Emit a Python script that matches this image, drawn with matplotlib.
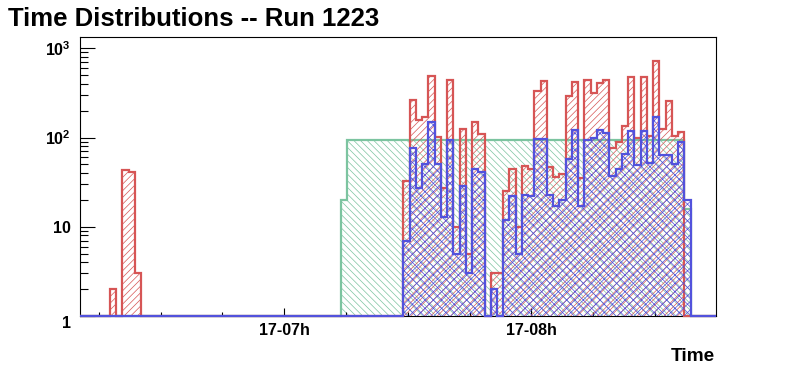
import numpy as np
import matplotlib
matplotlib.use("Agg")
import matplotlib.pyplot as plt
from matplotlib.ticker import FixedLocator, NullFormatter, FixedFormatter

plt.rcParams['font.family'] = ['Liberation Sans', 'DejaVu Sans']
plt.rcParams['font.weight'] = 'bold'
plt.rcParams['mathtext.fontset'] = 'custom'
plt.rcParams['mathtext.rm'] = 'Liberation Sans:bold'
plt.rcParams['mathtext.bf'] = 'Liberation Sans:bold'
plt.rcParams['mathtext.it'] = 'Liberation Sans:bold'
plt.rcParams['hatch.linewidth'] = 0.5

# ---------------- data ----------------
title = "Time Distributions -- Run 1223"
x_label = "Time"
x_major_minutes = [0, 60]                 # minutes after 17-07h
x_major_labels = ["17-07h", "17-08h"]
x_minor_minutes = [-45, -30, -15, 15, 30, 45, 75, 90]
x_limits_min = (-49.7, 104.8)
y_limits = (1, 1340)
y_major = [1, 10, 100, 1000]
y_major_labels = ["1", "10", r"$10^{2}$", r"$10^{3}$"]

bin_width_min = 1.516      # histogram bin width (minutes)
bin0_start_min = 28.9      # start of bin index 0 (minutes after 17-07h)

green_first_bin = -10
green_counts = [20, 94, 94, 94, 94, 94, 94, 94, 94, 94,
                94, 94, 94, 94, 94, 94, 94, 94, 94, 94,
                94, 94, 94, 94, 94, 94, 94, 94, 94, 94,
                94, 94, 94, 94, 94, 94, 94, 94, 94, 94,
                94, 94, 94, 94, 94, 94, 94, 94, 94, 94,
                94, 94, 94, 94, 94, 16]

red_early_first_bin = -47
red_early_counts = [2, 0, 43, 41, 3]

red_main_first_bin = 0
red_main_counts = [33, 265, 158, 170, 484, 101, 27, 445, 10, 125,
                   5, 150, 111, 0, 3, 3, 25, 44, 10, 48,
                   44, 329, 426, 47, 36, 39, 296, 415, 35, 437,
                   316, 408, 437, 76, 90, 136, 472, 98, 472, 104,
                   714, 125, 254, 103, 114, 0]

blue_first_bin = 0
blue_counts = [7, 77, 27, 51, 150, 51, 13, 94, 5, 29,
               3, 45, 41, 0, 2, 0, 12, 22, 5, 23,
               22, 97, 97, 23, 17, 20, 57, 122, 17, 95,
               98, 120, 112, 37, 45, 66, 117, 49, 117, 52,
               172, 63, 63, 51, 89, 20]

green_color = "#7cc4a0"
red_color = "#d65555"
blue_color = "#5252dc"

# ---------------- build common bin grid ----------------
k_lo = int(np.floor((x_limits_min[0] - bin0_start_min) / bin_width_min))
k_hi = int(np.ceil((x_limits_min[1] - bin0_start_min) / bin_width_min))
ks = np.arange(k_lo, k_hi)
edges = bin0_start_min + np.arange(k_lo, k_hi + 1) * bin_width_min
edges[0] = x_limits_min[0]
edges[-1] = x_limits_min[1]


def place(segments):
    arr = np.zeros(len(ks))
    for first, vals in segments:
        for i, v in enumerate(vals):
            arr[first + i - k_lo] = v
    return arr


green = place([(green_first_bin, green_counts)])
red = place([(red_early_first_bin, red_early_counts), (red_main_first_bin, red_main_counts)])
blue = place([(blue_first_bin, blue_counts)])

fig = plt.figure(figsize=(7.96, 3.72), dpi=100)
ax = fig.add_axes([79.5 / 796, 1 - 316 / 372, (716 - 79.5) / 796, (316 - 37) / 372])
ax.set_yscale('log')

series = [(green, green_color, '\\\\\\\\\\'),
          (red, red_color, '/////'),
          (blue, blue_color, 'xxxx')]
z = 1
for vals, col, hatch in series:
    v = np.where(vals > 0, vals, y_limits[0])
    ax.stairs(v, edges, baseline=y_limits[0], fill=True, facecolor='none',
              edgecolor=col, hatch=hatch, linewidth=0, zorder=z)
    ax.stairs(v, edges, baseline=None, color=col, linewidth=1.6,
              zorder=z + 0.5, clip_on=False)
    z += 1

ax.set_xlim(*x_limits_min)
ax.set_ylim(*y_limits)

for s in ax.spines.values():
    s.set_linewidth(0.8)
    s.set_zorder(0.5)

ax.yaxis.set_major_locator(FixedLocator(y_major))
ax.yaxis.set_major_formatter(FixedFormatter(y_major_labels))
minor_y = [m * 10 ** d for d in range(0, 4) for m in range(2, 10) if m * 10 ** d < y_limits[1]]
ax.yaxis.set_minor_locator(FixedLocator(minor_y))
ax.yaxis.set_minor_formatter(NullFormatter())

ax.xaxis.set_major_locator(FixedLocator(x_major_minutes))
ax.xaxis.set_major_formatter(FixedFormatter(x_major_labels))
ax.xaxis.set_minor_locator(FixedLocator(x_minor_minutes))

ax.tick_params(axis='y', which='major', direction='in', length=11, width=0.8,
               labelsize=11.5, pad=6, left=True, right=False)
ax.tick_params(axis='y', which='minor', direction='in', length=5.5, width=0.8,
               left=True, right=False)
ax.tick_params(axis='x', which='major', direction='in', length=6, width=0.8,
               labelsize=11.5, pad=5, bottom=True, top=False)
ax.tick_params(axis='x', which='minor', direction='in', length=3, width=0.8,
               bottom=True, top=False)

fig.canvas.draw()
ylabels = ax.get_yticklabels()
ylabels[0].set_va('top')

fig.text(8 / 796, 1 - 26.5 / 372, title, fontsize=18.5, fontweight='bold',
         ha='left', va='baseline')
fig.text(715 / 796, 1 - 361 / 372, x_label, fontsize=13.7, fontweight='bold',
         ha='right', va='baseline')

fig.savefig("out.png", dpi=100)
